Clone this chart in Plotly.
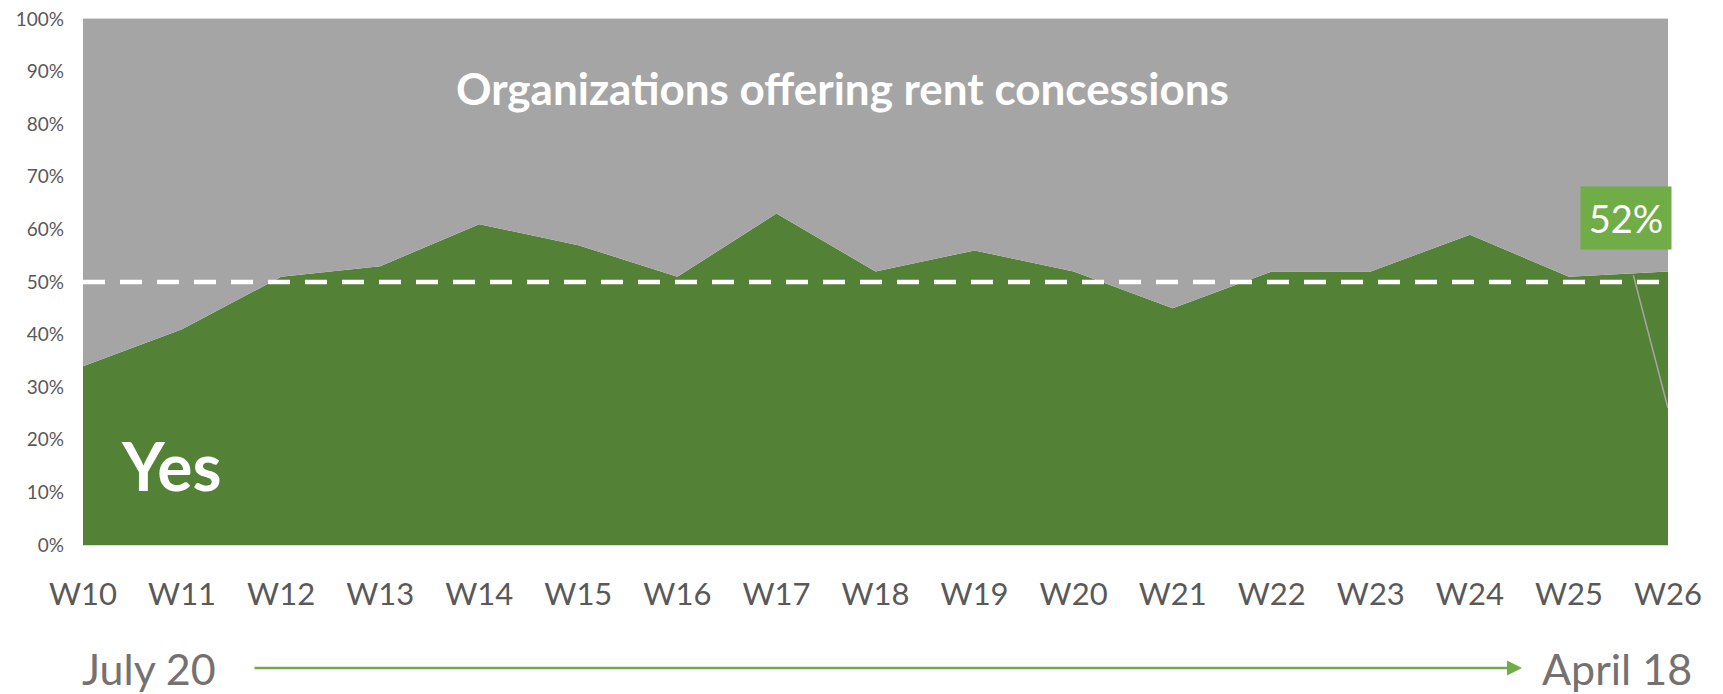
import plotly.graph_objects as go

weeks = ["W10", "W11", "W12", "W13", "W14", "W15", "W16", "W17", "W18",
         "W19", "W20", "W21", "W22", "W23", "W24", "W25", "W26"]
yes_pct = [34, 41, 51, 53, 61, 57, 51, 63, 52, 56, 52, 45, 52, 52, 59, 51, 52]
no_pct = [100 - v for v in yes_pct]
y_ticks = [0, 10, 20, 30, 40, 50, 60, 70, 80, 90, 100]
y_ticktext = [f"{v}%" for v in y_ticks]
threshold = 50

GREEN = "#538135"
GREY = "#A5A5A5"
LABEL_GREEN = "#70AD47"
TXT = "#595959"
FONT = "Lato"

W, H = 1723, 694
L, R, T, B = 83, 55, 19, 149
pw, ph = W - L - R, H - T - B

def px_x(p):
    return (p - L) / pw

def px_y(p):
    return (H - B - p) / ph

fig = go.Figure()
fig.add_trace(go.Scatter(x=weeks, y=yes_pct, stackgroup="one", mode="none",
                         fillcolor=GREEN, name="Yes", hoverinfo="x+y"))
fig.add_trace(go.Scatter(x=weeks, y=no_pct, stackgroup="one", mode="none",
                         fillcolor=GREY, name="No", hoverinfo="x+y"))

# dashed 50% reference line
fig.add_shape(type="line", xref="paper", x0=0, x1=1, yref="y", y0=threshold, y1=threshold,
              line=dict(color="white", width=4.5, dash="22px,15px"), layer="above")

# leader line from data label to the series
last = len(weeks) - 1
fig.add_shape(type="line", xref="x", yref="y", x0=last - 0.35, y0=yes_pct[-1] - 0.7,
              x1=last, y1=yes_pct[-1] / 2, line=dict(color="#A6A6A6", width=1.5), layer="above")

# data label
fig.add_annotation(x=last - 0.42, y=yes_pct[-1] + 10.2, xref="x", yref="y",
                   text=f"{yes_pct[-1]}%", showarrow=False, bgcolor=LABEL_GREEN,
                   width=86, height=58, borderpad=2,
                   font=dict(family=FONT, size=38, color="white"))

# in-chart titles
fig.add_annotation(x=7.67, y=86.8, xref="x", yref="y", text="<b>Organizations offering rent concessions</b>",
                   showarrow=False, font=dict(family=FONT, size=44, color="white"))
fig.add_annotation(x=0.89, y=15.1, xref="x", yref="y", text="<b>Yes</b>",
                   showarrow=False, font=dict(family=FONT, size=66, color="white"))

# timeline
fig.add_annotation(x=px_x(1522), y=px_y(668), xref="paper", yref="paper",
                   ax=-(1522 - 253), ay=0, axref="pixel", ayref="pixel",
                   text="", showarrow=True, arrowhead=2, arrowsize=1.2, arrowwidth=2.5,
                   arrowcolor=LABEL_GREEN)
fig.add_annotation(x=px_x(149), y=px_y(668), xref="paper", yref="paper", text="July 20",
                   showarrow=False, xanchor="center", yanchor="middle",
                   font=dict(family=FONT, size=43, color="#767171"))
fig.add_annotation(x=px_x(1617), y=px_y(668), xref="paper", yref="paper", text="April 18",
                   showarrow=False, xanchor="center", yanchor="middle",
                   font=dict(family=FONT, size=43, color="#767171"))

fig.update_layout(
    width=W, height=H,
    margin=dict(l=L, r=R, t=T, b=B, autoexpand=False),
    plot_bgcolor="white", paper_bgcolor="white",
    showlegend=False,
    font=dict(family=FONT, color=TXT),
    xaxis=dict(type="category", range=[0, last], showgrid=False, zeroline=False,
               showline=True, linecolor="#D9D9D9", linewidth=1, mirror=True, automargin=False,
               ticks="", tickfont=dict(size=31, color=TXT), ticklabelstandoff=22),
    yaxis=dict(range=[0, 100], tickvals=y_ticks, ticktext=y_ticktext, showgrid=False,
               zeroline=False, showline=False, ticks="", automargin=False,
               tickfont=dict(size=19, color=TXT), ticklabelstandoff=18),
)

fig.write_html("out.html", config={"displayModeBar": False},
               post_script="document.body.style.margin='0';document.body.style.padding='0';")
